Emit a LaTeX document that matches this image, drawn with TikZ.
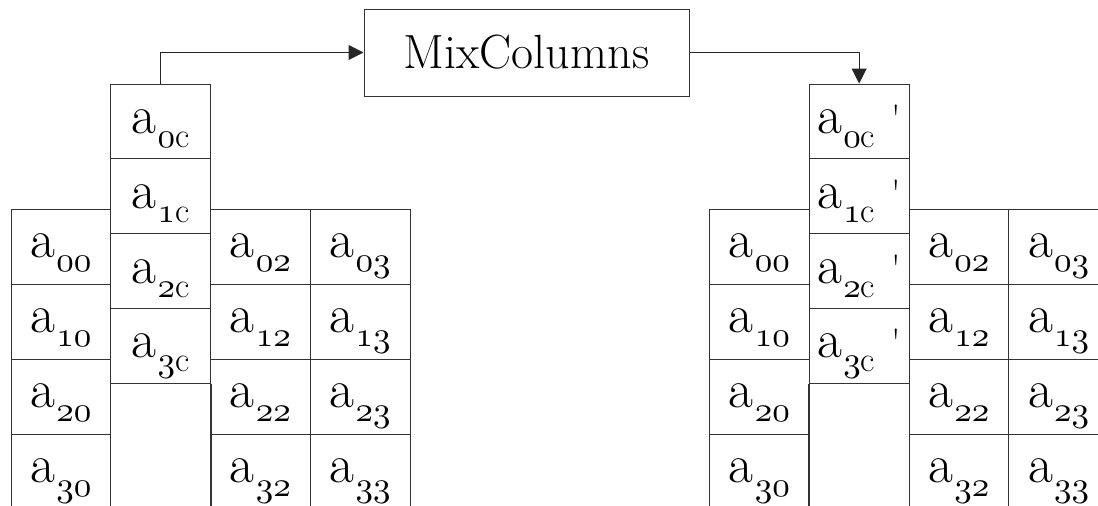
\documentclass[tikz,border=0pt]{standalone}
\usetikzlibrary{arrows.meta}
\DeclareFontFamily{OML}{osfcm}{\skewchar\font127 }
\DeclareFontShape{OML}{osfcm}{m}{it}{<->cmmi10}{}
\newcommand{\osn}[1]{{\usefont{OML}{osfcm}{m}{it}#1}}
\newcommand{\cellab}[2]{{\fontsize{54}{54}\selectfont a}\kern1pt\raisebox{-14pt}{\fontsize{35}{35}\selectfont #1}#2}
\newcommand{\prm}{\hspace{16pt}\raisebox{2pt}{\fontsize{38}{38}\selectfont\textquotesingle}}
\tikzset{
  cell/.style={draw=black!80, line width=1pt, rectangle, inner sep=0pt, minimum width=99.75pt, minimum height=75pt},
  mcell/.style={cell, minimum height=74.75pt},
  lbl/.style={anchor=base, inner sep=0pt},
  box/.style={draw=black!80, line width=1pt, rectangle, inner sep=0pt, minimum width=325pt, minimum height=87pt, font=\fontsize{48}{48}\selectfont},
  arr/.style={draw=black!85, line width=1pt, -{Triangle[length=15pt,width=15pt]}}
}
\begin{document}
\begin{tikzpicture}[x=1pt,y=-1pt]
\clip (0,0) rectangle (1098,506);
\fill[white] (0,0) rectangle (1098,506);
% static columns of both grids
\foreach \g/\xo in {L/0,R/698.5}{
  \foreach \cc/\cx in {0/60.875,2/260.375,3/360.125}{
    \foreach \rr in {0,...,3}{
      \node[cell] (\g\rr\cc) at (\cx+\xo, 246.5+75*\rr) {};
      \node[lbl] (\g t\rr\cc) at ([yshift=-49pt]\g\rr\cc.north) {\cellab{\osn{\rr\cc}}{}};
    }
  }
}
% moving columns
\foreach \k in {0,...,3}{
  \node[mcell] (LM\k) at (160.625, 84+37.375+74.75*\k) {};
  \node[lbl] (LMt\k) at ([yshift=-50pt]LM\k.north) {\cellab{\osn{\k}c}{}};
  \node[mcell] (RM\k) at (859.125, 84+37.375+74.75*\k) {};
  \node[lbl] (RMt\k) at ([yshift=-50pt]RM\k.north) {\cellab{\osn{\k}c}{\prm}};
}
% empty slots below moving columns
\coordinate (LB) at (160.625,506);
\coordinate (RB) at (859.125,506);
\draw[draw=black!80, line width=1pt] (LM3.south west) -- (LM3.south west |- LB);
\draw[draw=black!80, line width=1pt] (LM3.south east) -- (LM3.south east |- LB);
\draw[draw=black!80, line width=1pt] (RM3.south west) -- (RM3.south west |- RB);
\draw[draw=black!80, line width=1pt] (RM3.south east) -- (RM3.south east |- RB);
% MixColumns box
\node[box] (mix) at (526.5,52.5) {MixColumns};
\draw[arr] (LM0.north) |- (mix.west);
\draw[arr] (mix.east) -| (RM0.north);
\end{tikzpicture}
\end{document}
